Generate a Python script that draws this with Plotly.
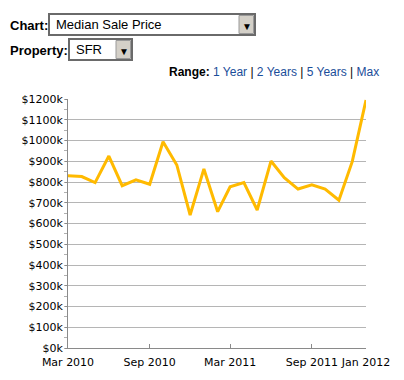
import plotly.graph_objects as go

months = ["2010-03-01", "2010-04-01", "2010-05-01", "2010-06-01", "2010-07-01", "2010-08-01",
          "2010-09-01", "2010-10-01", "2010-11-01", "2010-12-01", "2011-01-01", "2011-02-01",
          "2011-03-01", "2011-04-01", "2011-05-01", "2011-06-01", "2011-07-01", "2011-08-01",
          "2011-09-01", "2011-10-01", "2011-11-01", "2011-12-01", "2012-01-01"]
median_price = [830000, 826000, 797000, 925000, 782000, 810000,
                789000, 994000, 882000, 641000, 863000, 657000,
                777000, 797000, 665000, 901000, 821000, 766000,
                786000, 766000, 712000, 898000, 1195000]

x_tick_vals = ["2010-03-01", "2010-09-01", "2011-03-01", "2011-09-01", "2012-01-01"]
x_tick_text = ["Mar 2010", "Sep 2010", "Mar 2011", "Sep 2011", "Jan 2012"]
y_tick_vals = list(range(0, 1300000, 100000))
y_tick_text = ["$%dk" % (v // 1000) for v in y_tick_vals]

W, H = 404, 380
L, R, T, B = 68, 366, 99, 348


def px(x):
    return (x - L) / (R - L)


def py(y):
    return (B - y) / (B - T)


fig = go.Figure()
fig.add_trace(go.Scatter(x=months, y=median_price, mode="lines",
                         line=dict(color="#FFBA00", width=3), hoverinfo="x+y"))

shapes = []
annotations = []


def select_box(x0, y0, x1, y1, text):
    shapes.append(dict(type="rect", xref="paper", yref="paper", x0=px(x0), x1=px(x1),
                       y0=py(y1), y1=py(y0), line=dict(color="#6a6a6a", width=2),
                       fillcolor="white", layer="above"))
    bx0 = x1 - 16
    shapes.append(dict(type="rect", xref="paper", yref="paper", x0=px(bx0), x1=px(x1 - 1.5),
                       y0=py(y1 - 1.5), y1=py(y0 + 1.5), line=dict(color="#9a9a9a", width=1),
                       fillcolor="#d4d0c8", layer="above"))
    annotations.append(dict(xref="paper", yref="paper", x=px((bx0 + x1) / 2), y=py((y0 + y1) / 2 + 1),
                            text="▼", showarrow=False, font=dict(size=10, color="black"),
                            xanchor="center", yanchor="middle"))
    annotations.append(dict(xref="paper", yref="paper", x=px(x0 + 5), y=py((y0 + y1) / 2),
                            text=text, showarrow=False,
                            font=dict(family="Liberation Sans, Arial", size=13, color="black"),
                            xanchor="left", yanchor="middle"))


annotations.append(dict(xref="paper", yref="paper", x=px(8), y=py(25), text="<b>Chart:</b>",
                        showarrow=False, font=dict(family="Liberation Sans, Arial", size=13, color="black"),
                        xanchor="left", yanchor="middle"))
select_box(49, 14, 255, 35, "Median Sale Price")
annotations.append(dict(xref="paper", yref="paper", x=px(8), y=py(50), text="<b>Property:</b>",
                        showarrow=False, font=dict(family="Liberation Sans, Arial", size=13, color="black"),
                        xanchor="left", yanchor="middle"))
select_box(69, 39, 132, 60, "SFR")

link = "#1a4d99"
range_text = ("<b>Range:</b> "
              f"<span style='color:{link}'>1 Year</span> | "
              f"<span style='color:{link}'>2 Years</span> | "
              f"<span style='color:{link}'>5 Years</span> | "
              f"<span style='color:{link}'>Max</span>")
annotations.append(dict(xref="paper", yref="paper", x=px(381), y=py(72), text=range_text,
                        showarrow=False, font=dict(family="Liberation Sans, Arial", size=12, color="black"),
                        xanchor="right", yanchor="middle"))

fig.update_layout(
    width=W, height=H,
    margin=dict(l=L, r=W - R, t=T, b=H - B, pad=0),
    paper_bgcolor="white", plot_bgcolor="white",
    showlegend=False,
    shapes=shapes, annotations=annotations,
    xaxis=dict(type="date", range=["2010-03-01", "2012-01-01"], tickvals=x_tick_vals,
               ticktext=x_tick_text, ticks="inside", ticklen=4, tickcolor="#8a8a8a",
               ticklabelstandoff=4,
               showline=True, linecolor="#8a8a8a", linewidth=1, showgrid=False, zeroline=False,
               tickfont=dict(family="DejaVu Sans, Verdana", size=11, color="black"), fixedrange=True),
    yaxis=dict(range=[0, 1200000], tickvals=y_tick_vals, ticktext=y_tick_text,
               ticks="outside", ticklen=2, tickcolor="#8a8a8a",
               minor=dict(dtick=50000, ticks="outside", ticklen=3, tickcolor="#b0b0b0", showgrid=False),
               showline=True, linecolor="#8a8a8a", linewidth=1, showgrid=True, gridcolor="#b5b5b5",
               gridwidth=1, zeroline=False,
               tickfont=dict(family="DejaVu Sans, Verdana", size=11, color="black"), fixedrange=True),
)

fig.write_html("out.html", config={"displayModeBar": False},
               post_script="document.body.style.margin='0';document.body.style.overflow='hidden';")
